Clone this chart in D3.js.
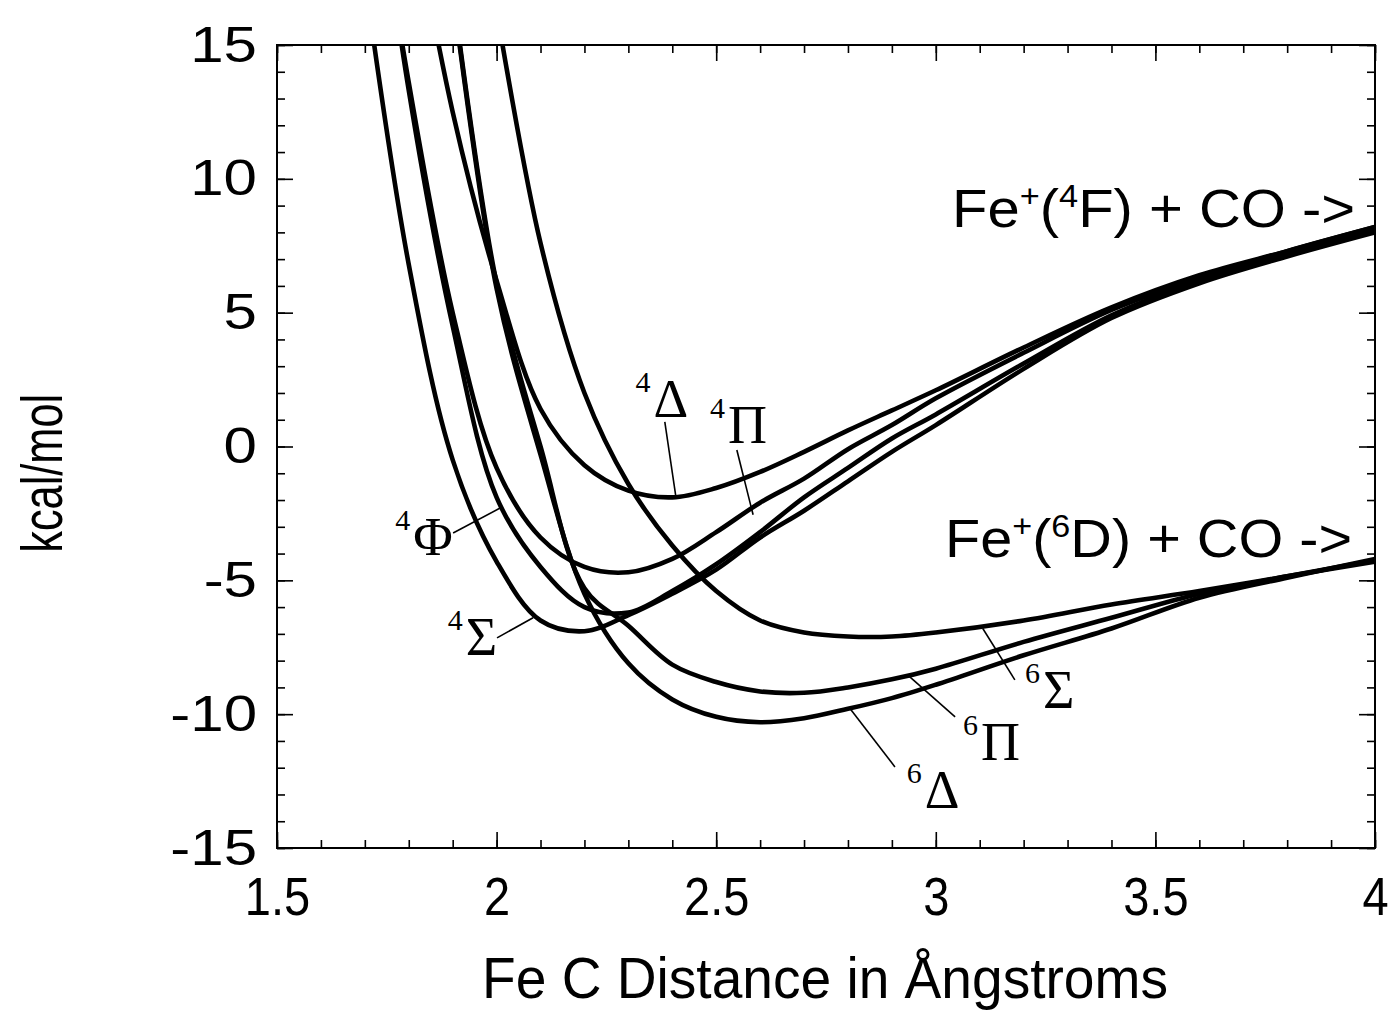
<!DOCTYPE html>
<html>
<head>
<meta charset="utf-8">
<script src="https://cdn.jsdelivr.net/npm/d3@7"></script>
<style>
  body { margin: 0; background: #fff; }
  svg { display: block; }
</style>
</head>
<body>
<div id="chart"></div>
<script>
// Fe-C distance grid (Angstrom) and energies (kcal/mol)
const distances = [1.7, 1.8, 1.9, 2.0, 2.1, 2.2, 2.3, 2.4, 2.5, 2.6, 2.7, 2.8, 2.9, 3.0, 3.2, 3.4, 3.6, 3.8, 4.0];

const quartetSigma = [17.5, 6.8, -0.5, -4.3, -6.5, -6.9, -6.3, -5.5, -4.6, -3.4, -2.4, -1.3, -0.2, 0.8, 2.9, 4.8, 6.1, 7.1, 8.0];
const quartetPhi   = [25, 13.3, 4.5, -1.9, -4.5, -6.0, -6.2, -5.4, -4.4, -3.2, -1.9, -0.8, 0.3, 1.2, 3.1, 4.9, 6.2, 7.2, 8.1];
const quartetPi    = [24, 13.6, 5.0, -0.8, -3.4, -4.5, -4.7, -4.2, -3.2, -2.1, -1.2, -0.1, 0.8, 1.8, 3.5, 5.1, 6.3, 7.3, 8.2];
const quartetDelta = [null, 21, 12.5, 6.2, 1.4, -0.7, -1.65, -1.9, -1.55, -0.95, -0.2, 0.6, 1.35, 2.1, 3.7, 5.2, 6.4, 7.3, 8.2];
const sextetSigma  = [null, null, null, 16.3, 7.6, 2.0, -1.4, -3.7, -5.4, -6.5, -6.95, -7.1, -7.1, -6.95, -6.5, -5.9, -5.4, -4.85, -4.3];
const sextetPi     = [null, null, 17.1, 6.1, 0.0, -5.3, -6.7, -8.15, -8.8, -9.15, -9.2, -9.0, -8.7, -8.3, -7.3, -6.4, -5.5, -4.85, -4.25];
const sextetDelta  = [null, null, 17.0, 5.9, -0.3, -5.5, -8.1, -9.45, -10.1, -10.3, -10.15, -9.8, -9.4, -8.9, -7.8, -6.8, -5.65, -4.9, -4.2];

const xTicks = [1.5, 2, 2.5, 3, 3.5, 4];
const yTicks = [-15, -10, -5, 0, 5, 10, 15];

// label text, anchor and leader line (data units)
const stateLabels = [
  {sup: '4', sym: 'Δ', at: [2.316, 1.10],  from: [2.383, 0.92],  to: [2.408, -1.85]},
  {sup: '4', sym: 'Π', at: [2.486, 0.13],  from: [2.547, -0.13], to: [2.584, -2.55]},
  {sup: '4', sym: 'Φ', at: [1.769, -4.05], from: [1.901, -3.23], to: [2.008, -2.30]},
  {sup: '4', sym: 'Σ', at: [1.889, -7.79], from: [2.001, -7.15], to: [2.083, -6.40]},
  {sup: '6', sym: 'Σ', at: [3.203, -9.77], from: [3.180, -8.72], to: [3.107, -6.80]},
  {sup: '6', sym: 'Π', at: [3.062, -11.71], from: [3.044, -10.10], to: [2.937, -8.55]},
  {sup: '6', sym: 'Δ', at: [2.934, -13.50], from: [2.907, -11.97], to: [2.805, -9.80]}
];

const W = 1394, H = 1012;
const M = {top: 45, right: 19, bottom: 164, left: 277};
const SANS = '"Liberation Sans", Arial, Helvetica, sans-serif';
const SERIF = '"Liberation Serif", "Times New Roman", "DejaVu Serif", serif';

const x = d3.scaleLinear().domain([1.5, 4]).range([M.left, W - M.right]);
const y = d3.scaleLinear().domain([-15, 15]).range([H - M.bottom, M.top]);

const svg = d3.select('#chart').append('svg')
  .attr('width', W).attr('height', H)
  .attr('viewBox', `0 0 ${W} ${H}`);

svg.append('defs').append('clipPath').attr('id', 'plotclip')
  .append('rect')
  .attr('x', x(1.5)).attr('y', y(15))
  .attr('width', x(4) - x(1.5)).attr('height', y(-15) - y(15));

// squeeze/stretch text horizontally to match the scanned lettering
function fitWidth(sel, factor) {
  sel.each(function () {
    const w = this.getComputedTextLength();
    d3.select(this).attr('textLength', w * factor).attr('lengthAdjust', 'spacingAndGlyphs');
  });
}

// ticks, all pointing inward
const xMinor = d3.range(15, 41).map(d => d / 10);
const yMinor = d3.range(-15, 16);
const MAJ = 16, MIN = 8;
const plain = d => String(d);   // keep ASCII hyphen for negatives

function styleAxis(g) {
  g.select('.domain').remove();
  g.selectAll('.tick line').attr('stroke', '#000').attr('stroke-width', 1.6);
}

svg.append('g').attr('transform', `translate(0,${y(-15)})`)
  .call(d3.axisBottom(x).tickValues(xMinor).tickSize(-MIN).tickFormat(''))
  .call(styleAxis);
svg.append('g').attr('transform', `translate(0,${y(15)})`)
  .call(d3.axisTop(x).tickValues(xMinor).tickSize(-MIN).tickFormat(''))
  .call(styleAxis);
svg.append('g').attr('transform', `translate(0,${y(15)})`)
  .call(d3.axisTop(x).tickValues(xTicks).tickSize(-MAJ).tickFormat(''))
  .call(styleAxis);
svg.append('g').attr('transform', `translate(${x(1.5)},0)`)
  .call(d3.axisLeft(y).tickValues(yMinor).tickSize(-MIN).tickFormat(''))
  .call(styleAxis);
svg.append('g').attr('transform', `translate(${x(4)},0)`)
  .call(d3.axisRight(y).tickValues(yMinor).tickSize(-MIN).tickFormat(''))
  .call(styleAxis);
svg.append('g').attr('transform', `translate(${x(4)},0)`)
  .call(d3.axisRight(y).tickValues(yTicks).tickSize(-MAJ).tickFormat(''))
  .call(styleAxis);

const xAxis = svg.append('g').attr('transform', `translate(0,${y(-15)})`)
  .call(d3.axisBottom(x).tickValues(xTicks).tickSize(-MAJ).tickPadding(29).tickFormat(plain))
  .call(styleAxis);
xAxis.selectAll('text').attr('font-family', SANS).attr('font-size', 54).attr('fill', '#000');
fitWidth(xAxis.selectAll('text'), 0.87);

const yAxis = svg.append('g').attr('transform', `translate(${x(1.5)},0)`)
  .call(d3.axisLeft(y).tickValues(yTicks).tickSize(-MAJ).tickPadding(20).tickFormat(plain))
  .call(styleAxis);
yAxis.selectAll('text').attr('font-family', SANS).attr('font-size', 50).attr('fill', '#000');
fitWidth(yAxis.selectAll('text'), 1.2);

// frame
svg.append('rect')
  .attr('x', x(1.5)).attr('y', y(15))
  .attr('width', x(4) - x(1.5)).attr('height', y(-15) - y(15))
  .attr('fill', 'none').attr('stroke', '#000').attr('stroke-width', 2);

// potential curves
const states = [quartetSigma, quartetPhi, quartetPi, quartetDelta, sextetSigma, sextetPi, sextetDelta];
const curve = d3.line()
  .defined(d => d[1] != null)
  .x(d => x(d[0]))
  .y(d => y(d[1]))
  .curve(d3.curveCatmullRom.alpha(0.5));

const curves = svg.append('g').attr('clip-path', 'url(#plotclip)');
states.forEach(vals => {
  curves.append('path')
    .datum(distances.map((r, i) => [r, vals[i]]))
    .attr('fill', 'none')
    .attr('stroke', '#000')
    .attr('stroke-width', 4.6)
    .attr('stroke-linejoin', 'round')
    .attr('d', curve);
});

// state labels with leader lines
const labels = svg.append('g');
stateLabels.forEach(l => {
  labels.append('line')
    .attr('x1', x(l.from[0])).attr('y1', y(l.from[1]))
    .attr('x2', x(l.to[0])).attr('y2', y(l.to[1]))
    .attr('stroke', '#000').attr('stroke-width', 1.6);
  const t = labels.append('text')
    .attr('x', x(l.at[0])).attr('y', y(l.at[1]))
    .attr('font-family', SERIF).attr('fill', '#000');
  t.append('tspan').attr('font-size', 30).attr('dy', -25).text(l.sup);
  t.append('tspan').attr('font-size', 54).attr('dy', 25).attr('dx', 3).text(l.sym);
});

// asymptote notes
function asymptote(state, xv, yv, width) {
  const t = svg.append('text')
    .attr('x', x(xv)).attr('y', y(yv))
    .attr('font-family', SANS).attr('font-size', 54).attr('fill', '#000');
  t.append('tspan').text('Fe');
  t.append('tspan').attr('font-size', 32).attr('dy', -20).text('+');
  t.append('tspan').attr('dy', 20).text('(');
  t.append('tspan').attr('font-size', 32).attr('dy', -20).text(state.sup);
  t.append('tspan').attr('dy', 20).text(state.term + ') + CO ->');
  t.attr('textLength', width).attr('lengthAdjust', 'spacingAndGlyphs');
}
asymptote({sup: '4', term: 'F'}, 3.037, 8.2, 403);
asymptote({sup: '6', term: 'D'}, 3.021, -4.13, 407);

// axis titles
const xTitle = svg.append('text')
  .attr('x', (x(1.5) + x(4)) / 2 - 1).attr('y', 998)
  .attr('text-anchor', 'middle')
  .attr('font-family', SANS).attr('font-size', 58).attr('fill', '#000')
  .text('Fe C Distance in Ångstroms');
fitWidth(xTitle, 0.95);

const yTitle = svg.append('text')
  .attr('transform', `translate(62,${y(-1)}) rotate(-90)`)
  .attr('text-anchor', 'middle')
  .attr('font-family', SANS).attr('font-size', 57).attr('fill', '#000')
  .text('kcal/mol');
fitWidth(yTitle, 0.76);
</script>
</body>
</html>
